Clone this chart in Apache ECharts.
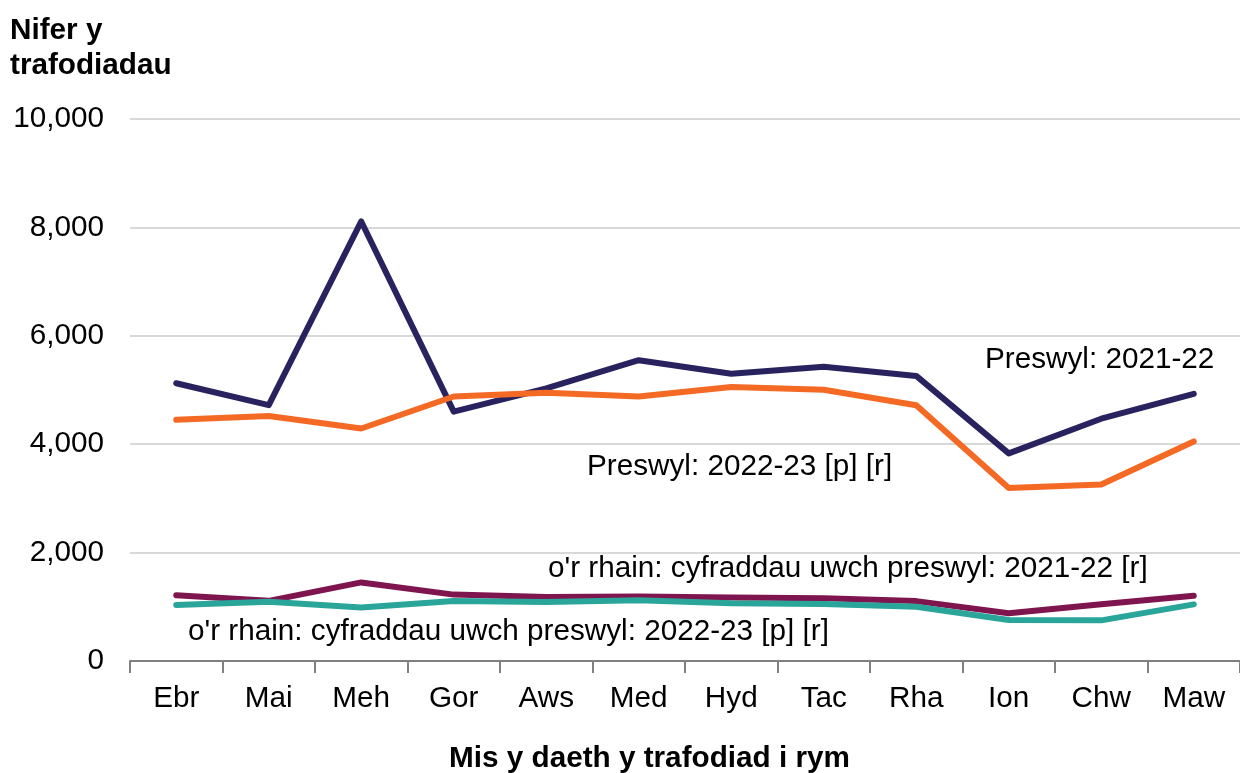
<!DOCTYPE html>
<html>
<head>
<meta charset="utf-8">
<script src="https://cdn.jsdelivr.net/npm/echarts@6/dist/echarts.min.js"></script>
<style>
  html, body { margin: 0; padding: 0; background: #fff; }
  #chart { width: 1240px; height: 773px; }
</style>
</head>
<body>
<div id="chart"></div>
<script>
// misoedd
const months = ["Ebr", "Mai", "Meh", "Gor", "Aws", "Med", "Hyd", "Tac", "Rha", "Ion", "Chw", "Maw"];
const yTicks = [0, 2000, 4000, 6000, 8000, 10000];

// Preswyl
const preswyl2122 = [5125, 4720, 8110, 4600, 5030, 5550, 5300, 5430, 5260, 3830, 4470, 4930];
const preswyl2223 = [4450, 4520, 4290, 4880, 4950, 4880, 5055, 5005, 4720, 3190, 3255, 4050];
// o'r rhain: cyfraddau uwch
const uwch2122 = [1215, 1110, 1450, 1225, 1180, 1190, 1170, 1160, 1105, 880, 1045, 1205];
const uwch2223 = [1035, 1095, 985, 1105, 1090, 1120, 1065, 1050, 1000, 755, 750, 1045];

const font = "Liberation Sans, Arial, sans-serif";
const fs = 29.7;
const chart = echarts.init(document.getElementById("chart"));

function line(name, data, color) {
  return {
    name: name,
    type: "line",
    data: data,
    showSymbol: false,
    symbol: "none",
    lineStyle: { color: color, width: 6, cap: "round", join: "round" },
    z: 3,
  };
}

// y = canol y testun
function note(text, x, y) {
  return {
    type: "text",
    left: x,
    top: y - 15,
    style: { text: text, font: fs + "px " + font, fill: "#000" },
  };
}

chart.setOption({
  animation: false,
  grid: { left: 130, right: 0, top: 119, bottom: 112 },
  xAxis: {
    type: "category",
    data: months,
    boundaryGap: true,
    axisLine: { lineStyle: { color: "#808080", width: 2 } },
    axisTick: { show: true, length: 12, lineStyle: { color: "#808080", width: 2 } },
    axisLabel: { color: "#000", fontSize: fs, fontFamily: font, margin: 23 },
  },
  yAxis: {
    type: "value",
    min: 0,
    max: 10000,
    interval: 2000,
    axisLine: { show: false },
    axisTick: { show: false },
    splitLine: { lineStyle: { color: "#d9d9d9", width: 2 } },
    axisLabel: {
      color: "#000",
      fontSize: fs,
      fontFamily: font,
      margin: 26,
      formatter: (v) => (yTicks.includes(v) ? v.toLocaleString("en-GB") : ""),
    },
  },
  graphic: [
    { type: "text", left: 10, top: 13, style: { text: "Nifer y\ntrafodiadau", font: "bold " + fs + "px " + font, fill: "#000", lineHeight: 35 } },
    { type: "text", left: 449, top: 744, style: { text: "Mis y daeth y trafodiad i rym", font: "bold " + fs + "px " + font, fill: "#000" } },
    note("Preswyl: 2021-22", 985, 360),
    note("Preswyl: 2022-23 [p] [r]", 587, 467),
    note("o'r rhain: cyfraddau uwch preswyl: 2021-22 [r]", 548, 569),
    note("o'r rhain: cyfraddau uwch preswyl: 2022-23 [p] [r]", 188, 632),
  ],
  series: [
    line("Preswyl: 2021-22", preswyl2122, "#28235e"),
    line("Preswyl: 2022-23 [p] [r]", preswyl2223, "#f46a25"),
    line("o'r rhain: cyfraddau uwch preswyl: 2021-22 [r]", uwch2122, "#7f154e"),
    line("o'r rhain: cyfraddau uwch preswyl: 2022-23 [p] [r]", uwch2223, "#2aa59a"),
  ],
});
</script>
</body>
</html>
